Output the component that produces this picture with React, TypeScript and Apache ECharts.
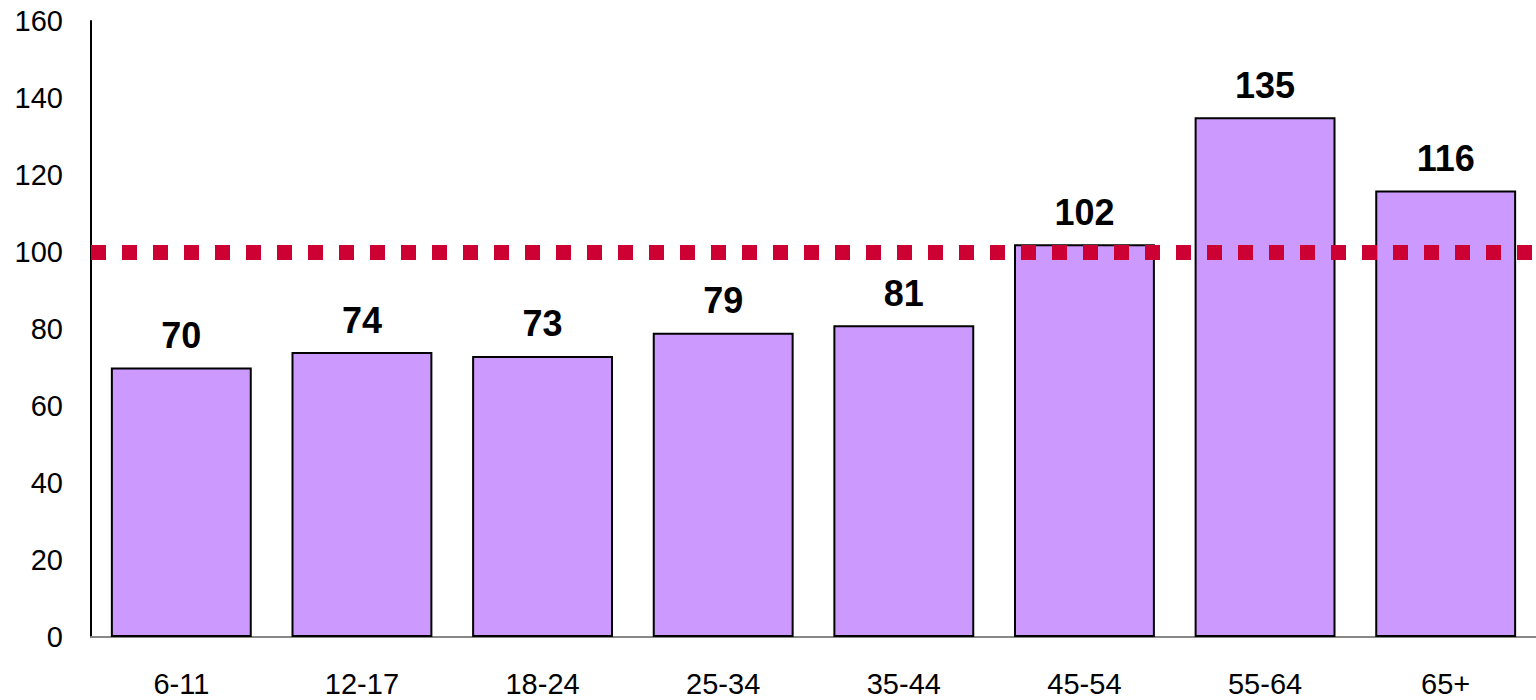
import React, { useEffect, useRef } from "react";
import * as echarts from "echarts";

const categories = ["6-11", "12-17", "18-24", "25-34", "35-44", "45-54", "55-64", "65+"];
const values = [70, 74, 73, 79, 81, 102, 135, 116];
const referenceValue = 100;
const yTicks = { min: 0, max: 160, interval: 20 };

export default function App() {
  const ref = useRef<HTMLDivElement>(null);
  useEffect(() => {
    if (!ref.current) return;
    const chart = echarts.init(ref.current, null, { renderer: "svg" });
    chart.setOption({
      animation: false,
      textStyle: { fontFamily: "Liberation Sans, Arial, sans-serif" },
      grid: { left: 91, right: 0, top: 21, bottom: 63, containLabel: false },
      xAxis: {
        type: "category",
        data: categories,
        axisLine: { show: true, lineStyle: { color: "#888888", width: 2 } },
        axisTick: { show: false },
        axisLabel: { color: "#000", fontSize: 29, margin: 32 },
      },
      yAxis: {
        type: "value",
        min: yTicks.min,
        max: yTicks.max,
        interval: yTicks.interval,
        axisLine: { show: true, lineStyle: { color: "#000", width: 2 } },
        axisTick: { show: false },
        splitLine: { show: false },
        axisLabel: { color: "#000", fontSize: 29, margin: 28 },
      },
      series: [
        {
          type: "bar",
          data: values,
          barCategoryGap: "22%",
          itemStyle: { color: "#CC99FF", borderColor: "#000", borderWidth: 2 },
          label: {
            show: true,
            position: "top",
            distance: 14,
            fontSize: 36,
            fontWeight: "bold",
            color: "#000",
          },
          markLine: {
            silent: true,
            symbol: "none",
            label: { show: false },
            lineStyle: { color: "#CC0033", width: 15, type: [15, 16], cap: "butt" },
            data: [{ yAxis: referenceValue }],
          },
        },
      ],
    });
    return () => chart.dispose();
  }, []);
  return <div ref={ref} style={{ width: 1536, height: 700, position: "absolute", left: 0, top: 0 }} />;
}
